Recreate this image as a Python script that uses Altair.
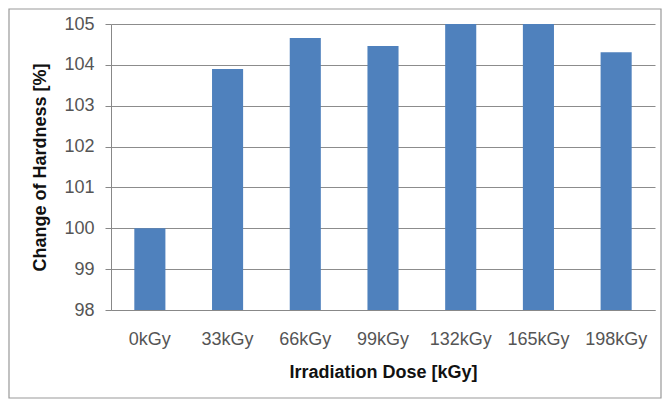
import altair as alt
import pandas as pd

doses = ["0kGy", "33kGy", "66kGy", "99kGy", "132kGy", "165kGy", "198kGy"]
hardness = [100.0, 103.9, 104.66, 104.46, 105.0, 105.0, 104.31]

df = pd.DataFrame({"dose": doses, "hardness": hardness, "base": [98] * len(doses)})

W, H = 544, 286

bars = alt.Chart(df).mark_bar(color="#4F81BD", clip=True).encode(
    x=alt.X(
        "dose:N",
        sort=doses,
        scale=alt.Scale(paddingInner=0.6, paddingOuter=0.3),
        axis=alt.Axis(
            title="Irradiation Dose [kGy]",
            labelAngle=0,
            labelFont="Liberation Sans",
            labelFontSize=18,
            labelColor="#555555",
            labelPadding=20,
            ticks=False,
            domainColor="#888888",
            titleFont="Liberation Sans",
            titleFontSize=18,
            titleFontWeight="bold",
            titleColor="#111111",
            titleY=53,
            titleBaseline="top",
        ),
    ),
    y=alt.Y(
        "hardness:Q",
        scale=alt.Scale(domain=[98, 105], zero=False, nice=False),
        axis=alt.Axis(
            title="Change of Hardness [%]",
            values=[98, 99, 100, 101, 102, 103, 104, 105],
            labelFont="Liberation Sans",
            labelFontSize=18,
            labelColor="#555555",
            labelPadding=11,
            tickSize=6,
            tickColor="#888888",
            domainColor="#888888",
            grid=True,
            gridColor="#8c8c8c",
            titleFont="Liberation Sans",
            titleFontSize=18,
            titleFontWeight="bold",
            titleColor="#111111",
            titleX=-71,
            titleY=H / 2,
            titleBaseline="middle",
        ),
    ),
    y2="base:Q",
)

border = alt.Chart(pd.DataFrame({"a": [0]})).mark_rect(
    fill=None, stroke="#999999", strokeWidth=1.2
).encode(
    x=alt.value(-102),
    x2=alt.value(550),
    y=alt.value(-15),
    y2=alt.value(374),
)

chart = alt.layer(border, bars).properties(
    width=W,
    height=H,
    autosize=alt.AutoSizeParams(type="none"),
    padding={"left": 103, "top": 16, "right": 7, "bottom": 89},
    background="white",
).configure_view(stroke=None)

chart.save("out.html", embed_options={"renderer": "svg", "actions": False})
